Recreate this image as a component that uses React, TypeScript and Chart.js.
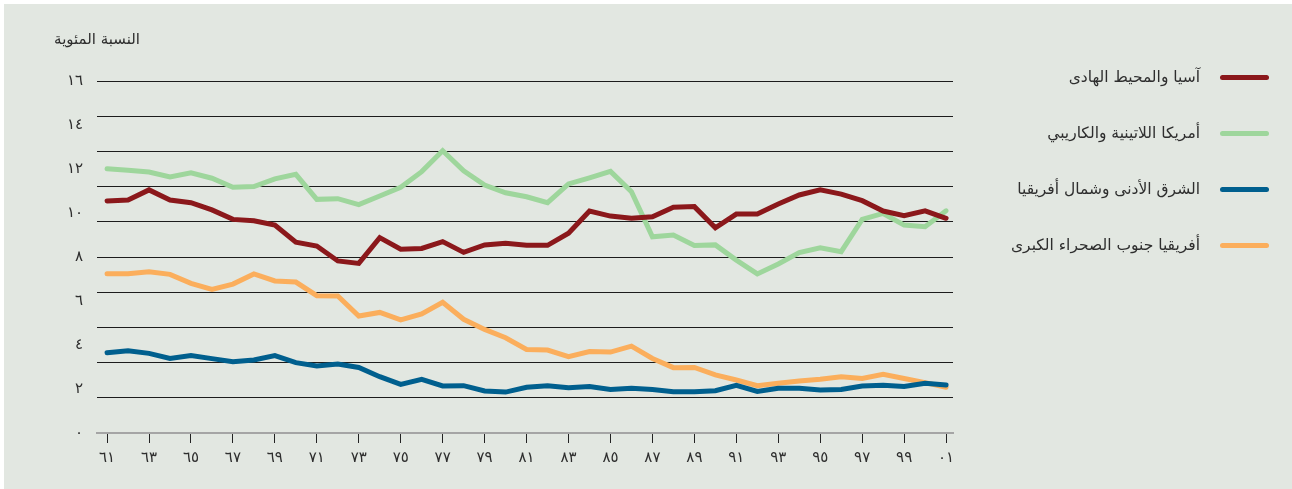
import React, { useEffect, useRef } from 'react';
import { Chart, registerables } from 'chart.js';

Chart.register(...registerables);

const years = [
  1961, 1962, 1963, 1964, 1965, 1966, 1967, 1968, 1969, 1970,
  1971, 1972, 1973, 1974, 1975, 1976, 1977, 1978, 1979, 1980,
  1981, 1982, 1983, 1984, 1985, 1986, 1987, 1988, 1989, 1990,
  1991, 1992, 1993, 1994, 1995, 1996, 1997, 1998, 1999, 2000, 2001,
];

const xTickYears = [
  1961, 1963, 1965, 1967, 1969, 1971, 1973, 1975, 1977, 1979, 1981,
  1983, 1985, 1987, 1989, 1991, 1993, 1995, 1997, 1999, 2001,
];

const yTickValues = [0, 2, 4, 6, 8, 10, 12, 14, 16];
const gridLineValues = [1.6, 3.2, 4.8, 6.4, 8, 9.6, 11.2, 12.8, 14.4, 16];

const yAxisTitle = 'النسبة المئوية';

const seriesNames = [
  'آسيا والمحيط الهادى',
  'أمريكا اللاتينية والكاريبي',
  'الشرق الأدنى وشمال أفريقيا',
  'أفريقيا جنوب الصحراء الكبرى',
];

const seriesColors = ['#8b181b', '#9ed69c', '#005f8e', '#fbae5c'];

const asiaPacific = [
  10.55, 10.59, 11.05, 10.59, 10.47, 10.14, 9.71, 9.65, 9.45, 8.67,
  8.5, 7.82, 7.71, 8.88, 8.35, 8.39, 8.7, 8.21, 8.55, 8.62,
  8.53, 8.53, 9.08, 10.09, 9.86, 9.76, 9.83, 10.26, 10.29, 9.33,
  9.95, 9.95, 10.41, 10.82, 11.05, 10.86, 10.56, 10.09, 9.88, 10.1, 9.76,
];

const latinAmerica = [
  12.01, 11.94, 11.86, 11.64, 11.83, 11.58, 11.17, 11.2, 11.55, 11.76,
  10.62, 10.65, 10.38, 10.77, 11.17, 11.88, 12.83, 11.92, 11.27, 10.92,
  10.74, 10.47, 11.32, 11.6, 11.89, 10.97, 8.92, 9.0, 8.52, 8.55,
  7.86, 7.23, 7.68, 8.2, 8.42, 8.24, 9.71, 9.98, 9.45, 9.38, 10.1,
];

const nearEastNorthAfrica = [
  3.65, 3.74, 3.62, 3.39, 3.52, 3.38, 3.24, 3.32, 3.52, 3.2,
  3.05, 3.14, 2.98, 2.56, 2.21, 2.44, 2.14, 2.15, 1.91, 1.86,
  2.08, 2.15, 2.06, 2.11, 1.98, 2.03, 1.98, 1.88, 1.88, 1.92,
  2.17, 1.89, 2.03, 2.03, 1.95, 1.98, 2.14, 2.17, 2.11, 2.26, 2.18,
];

const subSaharanAfrica = [
  7.24, 7.24, 7.33, 7.21, 6.8, 6.53, 6.77, 7.23, 6.91, 6.86,
  6.24, 6.23, 5.32, 5.48, 5.14, 5.41, 5.94, 5.17, 4.71, 4.33,
  3.8, 3.77, 3.47, 3.7, 3.68, 3.95, 3.39, 2.97, 2.98, 2.64,
  2.41, 2.15, 2.26, 2.36, 2.44, 2.56, 2.48, 2.67, 2.48, 2.29, 2.08,
];

const seriesValues = [asiaPacific, latinAmerica, nearEastNorthAfrica, subSaharanAfrica];

const ARABIC_DIGITS = '٠١٢٣٤٥٦٧٨٩';
const toArabicDigits = (s: string) => s.replace(/[0-9]/g, (d) => ARABIC_DIGITS[Number(d)]);

const FONT = "'DejaVu Sans', sans-serif";
const TEXT_COLOR = '#2e2e2e';
const BG = '#e2e7e1';

export default function App() {
  const canvasRef = useRef<HTMLCanvasElement | null>(null);

  useEffect(() => {
    const canvas = canvasRef.current;
    if (!canvas) return;
    const chart = new Chart(canvas, {
      type: 'line',
      data: {
        datasets: seriesNames.map((name, si) => ({
          label: name,
          data: years.map((yr, i) => ({ x: yr, y: seriesValues[si][i] })),
          borderColor: seriesColors[si],
          backgroundColor: seriesColors[si],
          borderWidth: 5,
          borderCapStyle: 'round' as const,
          borderJoinStyle: 'miter' as const,
          pointRadius: 0,
          pointHoverRadius: 0,
          tension: 0,
          fill: false,
          yAxisID: 'y',
        })),
      },
      options: {
        animation: false,
        responsive: false,
        maintainAspectRatio: false,
        events: [],
        layout: { padding: { left: 0, right: 339, top: 81, bottom: 0 } },
        plugins: {
          legend: { display: false },
          tooltip: { enabled: false },
          title: { display: false },
        },
        scales: {
          x: {
            type: 'linear',
            min: 1960.52,
            max: 2001.33,
            afterBuildTicks: (s: any) => {
              s.ticks = xTickYears.map((v) => ({ value: v }));
            },
            afterFit: (s: any) => {
              s.height = 56;
            },
            grid: {
              display: true,
              drawOnChartArea: false,
              drawTicks: true,
              tickLength: 10,
              color: '#222222',
              lineWidth: 1,
            },
            border: { display: true, color: '#a5a5a5', width: 2 },
            ticks: {
              autoSkip: false,
              maxRotation: 0,
              padding: 6,
              color: TEXT_COLOR,
              font: { family: FONT, size: 15 },
              callback: (v: any) => toArabicDigits(String(Number(v) % 100).padStart(2, '0')),
            },
          },
          y: {
            position: 'left',
            min: 0,
            max: 16,
            afterBuildTicks: (s: any) => {
              s.ticks = yTickValues.map((v) => ({ value: v }));
            },
            afterFit: (s: any) => {
              s.width = 97;
            },
            grid: { display: false, drawTicks: false },
            border: { display: false },
            ticks: {
              padding: 14,
              color: TEXT_COLOR,
              font: { family: FONT, size: 15 },
              callback: (v: any) => toArabicDigits(String(v)),
            },
          },
          y2: {
            position: 'right',
            min: 0,
            max: 16,
            afterBuildTicks: (s: any) => {
              s.ticks = gridLineValues.map((v) => ({ value: v }));
            },
            afterFit: (s: any) => {
              s.width = 0;
            },
            grid: { display: true, drawTicks: false, color: '#1c1c1c', lineWidth: 1 },
            border: { display: false },
            ticks: { display: false },
          },
        },
      },
    } as any);
    return () => chart.destroy();
  }, []);

  return (
    <div
      style={{
        position: 'fixed',
        left: 0,
        top: 0,
        width: '100vw',
        height: '100vh',
        minWidth: 1292,
        minHeight: 489,
        background: '#ffffff',
        overflow: 'hidden',
        fontFamily: FONT,
      }}
    >
      <div
        style={{
          position: 'absolute',
          left: 4,
          top: 4,
          right: -20,
          bottom: -20,
          background: BG,
        }}
      />
      <canvas
        ref={canvasRef}
        width={1292}
        height={489}
        style={{ position: 'absolute', left: 0, top: 0, width: 1292, height: 489 }}
      />
      <div
        dir="rtl"
        style={{
          position: 'absolute',
          left: 0,
          width: 140,
          textAlign: 'right',
          top: 39,
          transform: 'translateY(-50%)',
          fontSize: 15,
          color: TEXT_COLOR,
          whiteSpace: 'nowrap',
        }}
      >
        {yAxisTitle}
      </div>
      {seriesNames.map((name, i) => (
        <React.Fragment key={name}>
          <div
            dir="rtl"
            style={{
              position: 'absolute',
              left: 900,
              width: 300,
              textAlign: 'right',
              top: 77 + i * 56,
              transform: 'translateY(-50%)',
              fontSize: 15.5,
              color: TEXT_COLOR,
              whiteSpace: 'nowrap',
            }}
          >
            {name}
          </div>
          <div
            style={{
              position: 'absolute',
              left: 1220,
              top: 77 + i * 56 - 2.5,
              width: 49,
              height: 5,
              borderRadius: 3,
              background: seriesColors[i],
            }}
          />
        </React.Fragment>
      ))}
    </div>
  );
}
